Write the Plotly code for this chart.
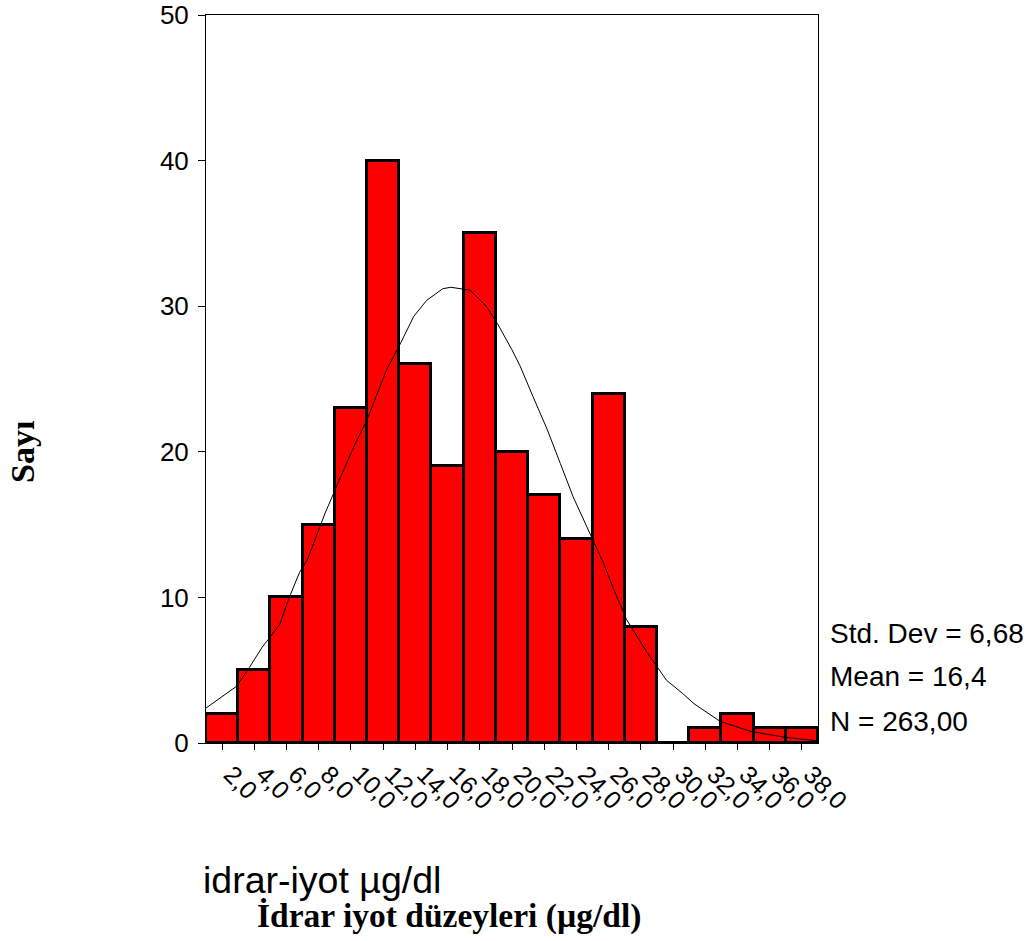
import plotly.graph_objects as go

# Histogram data (bin midpoints and counts)
bin_centers = [2, 4, 6, 8, 10, 12, 14, 16, 18, 20, 22, 24, 26, 28, 30, 32, 34, 36, 38]
counts = [2, 5, 10, 15, 23, 40, 26, 19, 35, 20, 17, 14, 24, 8, 0, 1, 2, 1, 1]
tick_labels = ["2,0", "4,0", "6,0", "8,0", "10,0", "12,0", "14,0", "16,0", "18,0", "20,0",
               "22,0", "24,0", "26,0", "28,0", "30,0", "32,0", "34,0", "36,0", "38,0"]

# Normal curve points
curve_x = [1.0, 2.9, 3.7, 4.5, 5.0, 5.6, 6.1, 6.8, 7.3, 8.4, 9.1, 10.2, 11.0, 12.2, 13.1, 13.9,
           14.7, 15.7, 16.2, 17.0, 17.4, 18.4, 19.1, 20.0, 20.5, 21.3, 22.2, 23.0, 23.8,
           25.0, 25.7, 26.3, 27.1, 28.4, 29.6, 30.6, 31.3, 32.9, 34.8, 36.9, 38.9]
curve_y = [2.4, 3.9, 5.2, 6.6, 7.3, 8.2, 9.8, 11.7, 12.6, 15.8, 17.6, 20.4, 22.2, 25.6, 27.5, 29.3,
           30.4, 31.2, 31.3, 31.2, 31.1, 30.0, 28.8, 27.0, 25.9, 23.8, 21.5, 19.2, 16.9,
           14.0, 12.3, 10.6, 8.5, 6.2, 4.3, 3.4, 2.7, 1.5, 0.8, 0.4, 0.16]

stats_lines = ["Std. Dev = 6,68", "Mean = 16,4", "N = 263,00"]
x_title = "idrar-iyot µg/dl"
caption = "İdrar iyot düzeyleri (µg/dl)"
y_title = "Sayı"

fig = go.Figure()
fig.add_trace(go.Bar(
    x=bin_centers, y=counts, width=2,
    marker=dict(color="#FF0000", line=dict(color="black", width=3)),
    hoverinfo="skip",
))
fig.add_trace(go.Scatter(
    x=curve_x, y=curve_y, mode="lines",
    line=dict(color="black", width=1),
    hoverinfo="skip",
))

fig.update_layout(
    width=1029, height=941,
    margin=dict(l=206, r=211, t=15, b=198),
    paper_bgcolor="white", plot_bgcolor="white",
    showlegend=False,
    bargap=0,
    font=dict(family="Liberation Sans, Arial, sans-serif", color="black"),
)
fig.update_xaxes(
    range=[1, 39], tickvals=bin_centers, ticktext=tick_labels,
    tickangle=45, ticks="outside", ticklen=6, tickcolor="black",
    tickfont=dict(size=25), automargin=False, ticklabelshift=9,
    showline=True, linecolor="black", linewidth=1, mirror=True,
    showgrid=False, zeroline=False,
)
fig.update_yaxes(
    range=[0, 50], tickvals=[0, 10, 20, 30, 40, 50],
    ticks="outside", ticklen=7, tickcolor="black",
    tickfont=dict(size=26), automargin=False, ticklabelstandoff=4,
    showline=True, linecolor="black", linewidth=1, mirror=True,
    showgrid=False, zeroline=False,
)

stat_y = [633, 676, 721]
for txt, py in zip(stats_lines, stat_y):
    fig.add_annotation(
        text=txt, xref="paper", yref="paper",
        x=(828 - 206) / (1029 - 206 - 211), y=(941 - 198 - py) / (941 - 15 - 198),
        xanchor="left", yanchor="middle", showarrow=False,
        font=dict(size=28, family="Liberation Sans, Arial, sans-serif"),
    )

fig.add_annotation(
    text=x_title, xref="paper", yref="paper",
    x=(201 - 206) / 612, y=(941 - 198 - 880) / 728,
    xanchor="left", yanchor="middle", showarrow=False,
    font=dict(size=37.5, family="Liberation Sans, Arial, sans-serif"),
)
fig.add_annotation(
    text="<b>" + caption + "</b>", xref="paper", yref="paper",
    x=(449 - 206) / 612, y=(941 - 198 - 916) / 728,
    xanchor="center", yanchor="middle", showarrow=False,
    font=dict(size=33.5, family="Liberation Serif, Times New Roman, serif"),
)
fig.add_annotation(
    text="<b>" + y_title + "</b>", xref="paper", yref="paper",
    x=(22 - 206) / 612, y=(941 - 198 - 452) / 728,
    xanchor="center", yanchor="middle", showarrow=False, textangle=-90,
    font=dict(size=34, family="Liberation Serif, Times New Roman, serif"),
)

fig.write_html("out.html")
